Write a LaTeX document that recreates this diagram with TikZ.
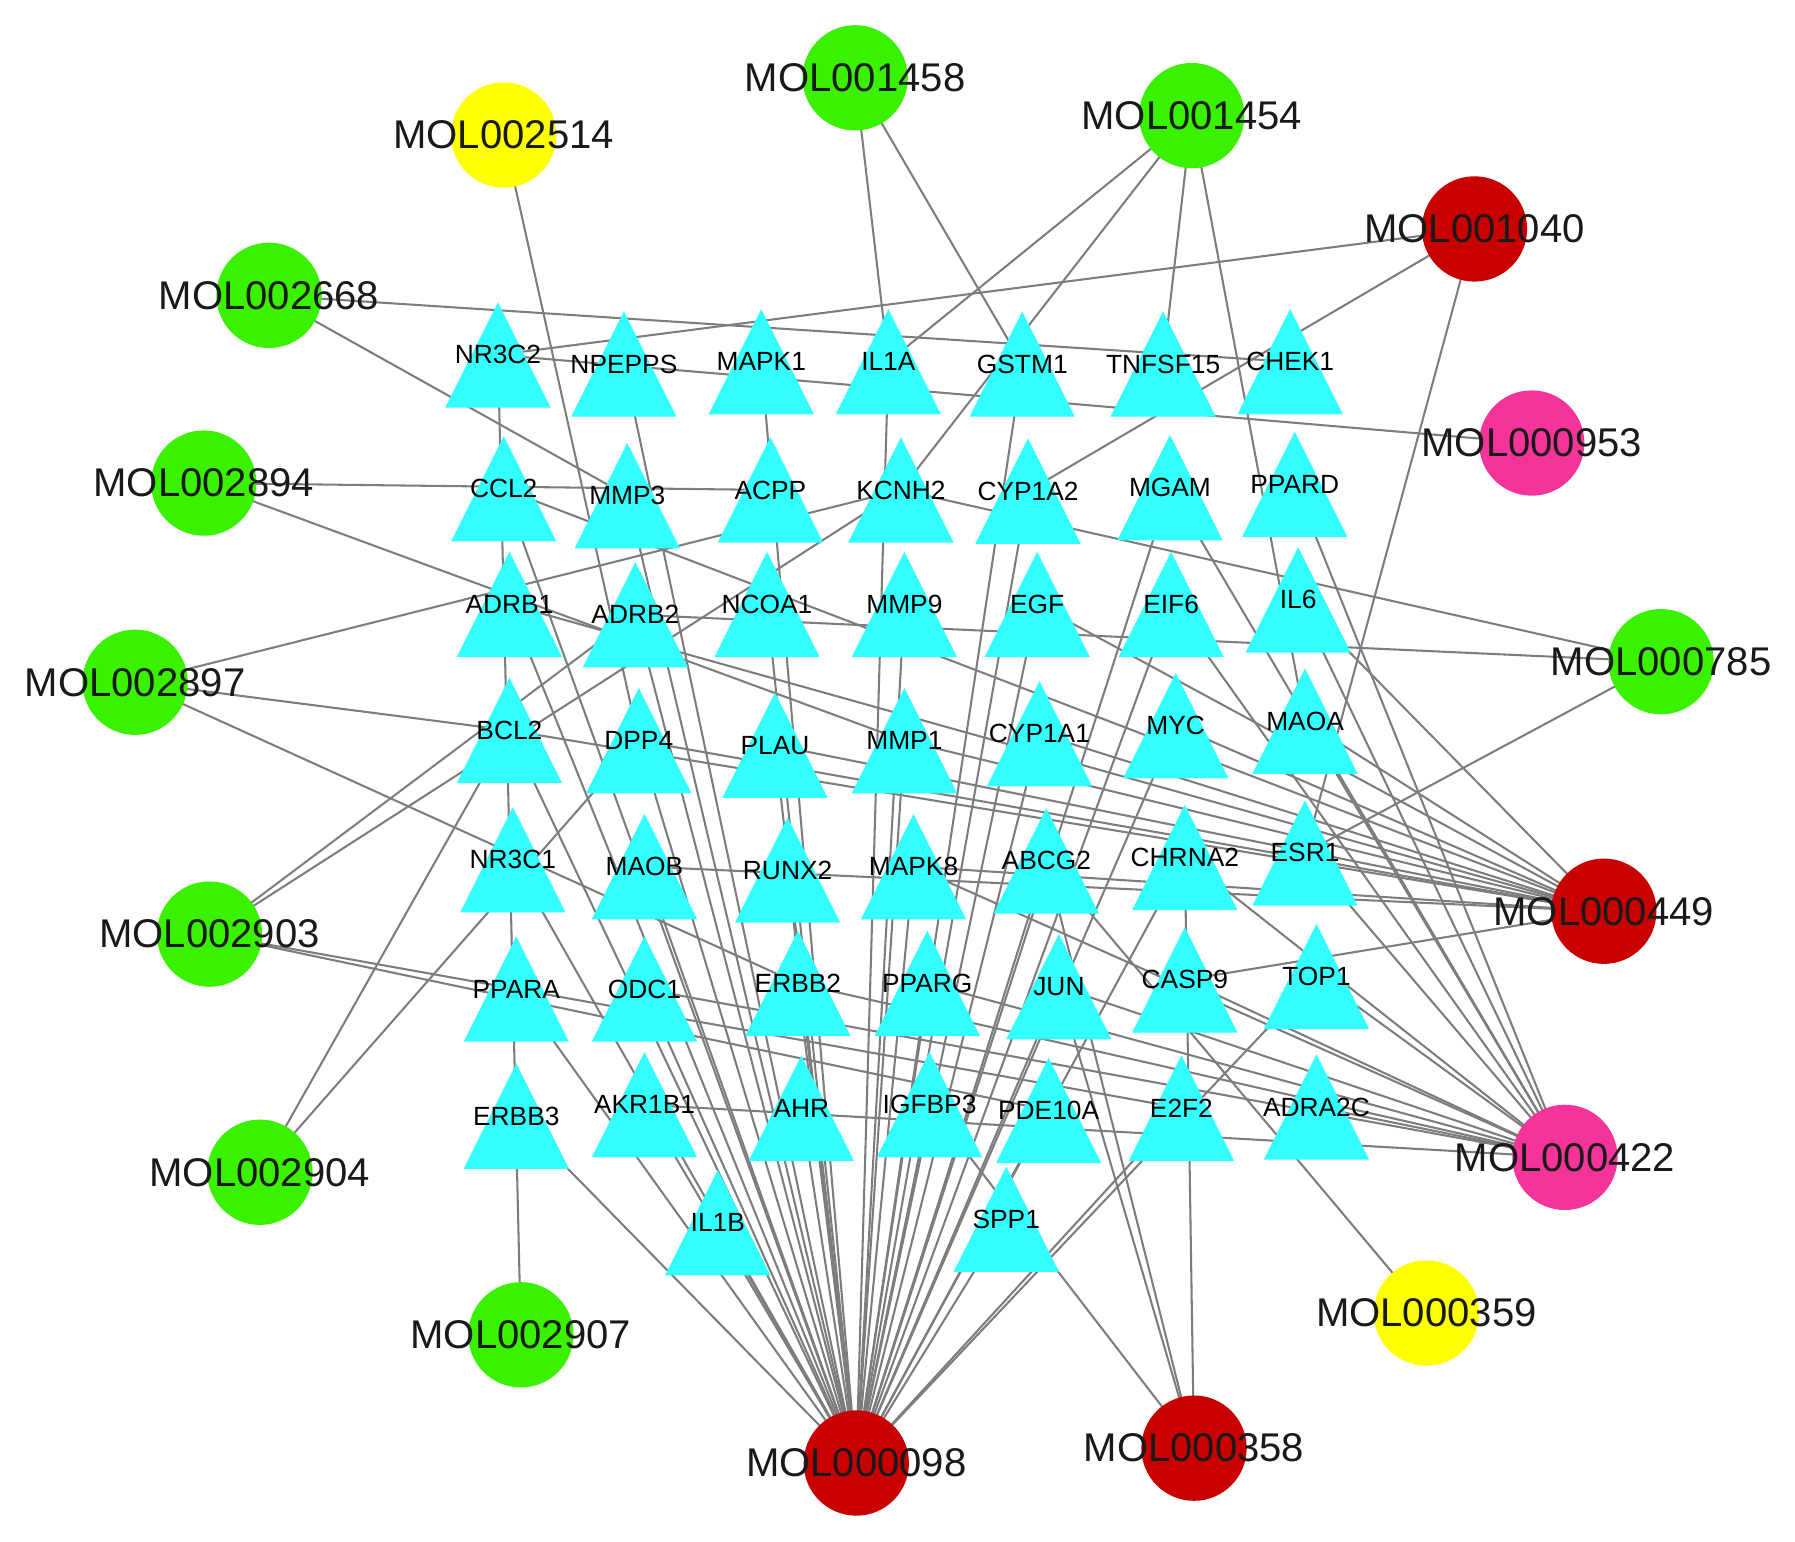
\documentclass[tikz,border=0pt]{standalone}
\usepackage{fontspec}
\setmainfont{Liberation Sans}
\pgfdeclarelayer{edgelayer}
\pgfdeclarelayer{trilayer}
\pgfsetlayers{edgelayer,trilayer,main}
\definecolor{molgreen}{RGB}{58,242,0}
\definecolor{molyellow}{RGB}{255,255,0}
\definecolor{molred}{RGB}{200,0,0}
\definecolor{molpink}{RGB}{245,52,155}
\definecolor{tricyan}{RGB}{51,255,255}
\definecolor{edgegray}{RGB}{125,125,125}
\begin{document}
\begin{tikzpicture}[x=0.5pt,y=-0.5pt,
  mollab/.style={font=\fontsize{17.5}{20}\selectfont,text=black!90,inner sep=0pt},
  mol/.style={circle,minimum size=46pt,inner sep=0pt,draw=none,label={[mollab]center:#1}},
  tgt/.style={font=\fontsize{11.5}{13}\selectfont,text=black,inner sep=0pt},
  edge/.style={draw=edgegray,line width=0.9pt},
  trifill/.style={fill=tricyan}]
\useasboundingbox (0,0) rectangle (1568,1347);
% compound nodes
\node[mol=MOL001458,fill=molgreen] (MOL001458) at (747,68) {};
\node[mol=MOL002514,fill=molyellow] (MOL002514) at (440,118) {};
\node[mol=MOL001454,fill=molgreen] (MOL001454) at (1041,101) {};
\node[mol=MOL001040,fill=molred] (MOL001040) at (1288,200) {};
\node[mol=MOL002668,fill=molgreen] (MOL002668) at (235,258) {};
\node[mol=MOL000953,fill=molpink] (MOL000953) at (1338,387) {};
\node[mol=MOL002894,fill=molgreen] (MOL002894) at (178,422) {};
\node[mol=MOL002897,fill=molgreen] (MOL002897) at (118,596) {};
\node[mol=MOL000785,fill=molgreen] (MOL000785) at (1451,578) {};
\node[mol=MOL000449,fill=molred] (MOL000449) at (1401,796) {};
\node[mol=MOL002903,fill=molgreen] (MOL002903) at (183,816) {};
\node[mol=MOL002904,fill=molgreen] (MOL002904) at (227,1024) {};
\node[mol=MOL000422,fill=molpink] (MOL000422) at (1367,1011) {};
\node[mol=MOL000359,fill=molyellow] (MOL000359) at (1246,1147) {};
\node[mol=MOL002907,fill=molgreen] (MOL002907) at (455,1166) {};
\node[mol=MOL000098,fill=molred] (MOL000098) at (748,1278) {};
\node[mol=MOL000358,fill=molred] (MOL000358) at (1043,1265) {};
% target nodes
\foreach \n/\x/\y in {NR3C2/435/310,NPEPPS/545/318,MAPK1/665/316,IL1A/776/316,GSTM1/893/318,TNFSF15/1016/318,CHEK1/1127/316,
  CCL2/440/427,MMP3/548/433,ACPP/673/428,KCNH2/787/428,CYP1A2/898/429,MGAM/1022/426,PPARD/1131/423,
  ADRB1/445/528,ADRB2/555/537,NCOA1/670/528,MMP9/790/528,EGF/906/528,EIF6/1023/528,IL6/1134/524,
  BCL2/445/638,DPP4/558/647,PLAU/677/651,MMP1/790/647,CYP1A1/908/641,MYC/1027/634,MAOA/1140/630,
  NR3C1/448/751,MAOB/563/757,RUNX2/688/760,MAPK8/798/757,ABCG2/914/752,CHRNA2/1035/749,ESR1/1140/745,
  PPARA/451/864,ODC1/563/864,ERBB2/697/859,PPARG/810/859,JUN/925/862,CASP9/1035/856,TOP1/1150/853,
  ERBB3/451/975,AKR1B1/563/965,AHR/700/968,IGFBP3/812/965,PDE10A/916/970,E2F2/1032/968,ADRA2C/1150/967,
  IL1B/627/1068,SPP1/879/1065}
  {\node[tgt] (\n) at (\x,\y) {\n};}
% triangles
\begin{pgfonlayer}{trilayer}
\foreach \n in {NR3C2,NPEPPS,MAPK1,IL1A,GSTM1,TNFSF15,CHEK1,CCL2,MMP3,ACPP,KCNH2,CYP1A2,MGAM,PPARD,
  ADRB1,ADRB2,NCOA1,MMP9,EGF,EIF6,IL6,BCL2,DPP4,PLAU,MMP1,CYP1A1,MYC,MAOA,
  NR3C1,MAOB,RUNX2,MAPK8,ABCG2,CHRNA2,ESR1,PPARA,ODC1,ERBB2,PPARG,JUN,CASP9,TOP1,
  ERBB3,AKR1B1,AHR,IGFBP3,PDE10A,E2F2,ADRA2C,IL1B,SPP1}
  {\fill[trifill] ([shift={(-46,46)}]\n.center) -- ([shift={(0,-46)}]\n.center) -- ([shift={(46,46)}]\n.center) -- cycle;}
\end{pgfonlayer}
% edges
\begin{pgfonlayer}{edgelayer}
\foreach \s/\tl in {
  MOL001458/{IL1A,GSTM1},
  MOL002514/{DPP4},
  MOL001454/{IL1A,KCNH2,TNFSF15,MAOA},
  MOL001040/{NR3C2,CYP1A2,ESR1},
  MOL002668/{CHEK1,MMP3},
  MOL000953/{NR3C2},
  MOL002894/{ACPP,MMP1},
  MOL002897/{KCNH2,BCL2,ERBB2},
  MOL000785/{KCNH2,ADRB2,ESR1},
  MOL000449/{ADRB1,CCL2,BCL2,DPP4,PLAU,MMP1,EGF,CYP1A1,MYC,MAOA,IL6,MAOB,MAPK8,CASP9},
  MOL002903/{ADRB2,KCNH2,E2F2,PDE10A},
  MOL002904/{BCL2,DPP4},
  MOL000422/{PPARD,IL6,MGAM,EIF6,MAOA,ESR1,CHRNA2,TOP1,CASP9,JUN,MAPK8,PPARG,ERBB2,ODC1,AKR1B1,ADRA2C},
  MOL000359/{ABCG2},
  MOL002907/{NR3C2},
  MOL000098/{NPEPPS,MAPK1,IL1A,GSTM1,CCL2,MMP3,ADRB1,ADRB2,BCL2,DPP4,NCOA1,MMP9,EGF,EIF6,MGAM,PLAU,MMP1,CYP1A1,MAOB,RUNX2,MAPK8,ABCG2,CHRNA2,NR3C1,PPARA,ODC1,ERBB2,PPARG,JUN,ERBB3,AKR1B1,AHR,IGFBP3,PDE10A,IL1B,SPP1,E2F2,TOP1,CYP1A2,MYC},
  MOL000358/{CHRNA2,IGFBP3,JUN,ABCG2}}
  {\foreach \t in \tl {\draw[edge] (\s.center) -- (\t.center);}}
\end{pgfonlayer}
\end{tikzpicture}
\end{document}
